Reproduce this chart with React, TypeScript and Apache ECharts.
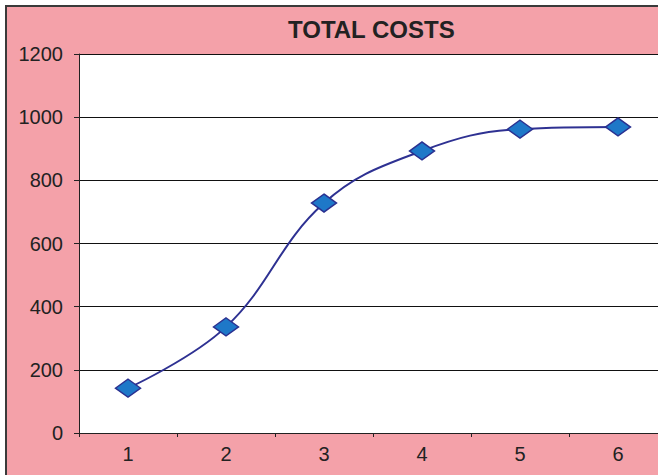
import React, { useEffect, useRef } from "react";
import * as echarts from "echarts";

const categories = ["1", "2", "3", "4", "5", "6"];
const totalCosts = [142, 336, 728, 893, 962, 969];
const yTicks = { min: 0, max: 1200, interval: 200 };
const titleText = "TOTAL COSTS";

export default function App() {
  const ref = useRef<HTMLDivElement>(null);
  useEffect(() => {
    if (!ref.current) return;
    const chart = echarts.init(ref.current, undefined, { renderer: "svg" });
    chart.setOption({
      animation: false,
      backgroundColor: "#ffffff",
      title: {
        text: titleText,
        left: 283,
        top: 12,
        textStyle: {
          fontFamily: "Liberation Sans, Arial, sans-serif",
          fontWeight: "bold",
          fontSize: 24,
          color: "#222222",
        },
      },
      graphic: [
        {
          type: "rect",
          z: -10,
          shape: { x: 6, y: 6, width: 720, height: 520 },
          style: { fill: "#F4A1A9", stroke: "#3a3a3a", lineWidth: 2 },
        },
      ],
      grid: {
        left: 79,
        top: 54,
        width: 588,
        bottom: 42,
        show: true,
        backgroundColor: "#ffffff",
        borderWidth: 0,
        containLabel: false,
        outerBoundsMode: "none",
      },
      xAxis: {
        type: "category",
        data: categories,
        boundaryGap: true,
        axisLine: { show: true, lineStyle: { color: "#222", width: 1 } },
        axisTick: { show: true, interval: 0, length: 4, alignWithLabel: false, lineStyle: { color: "#222" } },
        axisLabel: {
          fontFamily: "Liberation Sans, Arial, sans-serif",
          fontSize: 20,
          color: "#222",
          margin: 11,
        },
        splitLine: { show: false },
      },
      yAxis: {
        type: "value",
        min: yTicks.min,
        max: yTicks.max,
        interval: yTicks.interval,
        axisLine: { show: true, lineStyle: { color: "#222", width: 1 } },
        axisTick: { show: true, length: 5, lineStyle: { color: "#222" } },
        axisLabel: {
          fontFamily: "Liberation Sans, Arial, sans-serif",
          fontSize: 20,
          color: "#222",
          margin: 16,
          formatter: (v: number) => String(v),
        },
        splitLine: { show: true, lineStyle: { color: "#111", width: 1 } },
      },
      series: [
        {
          type: "line",
          data: totalCosts,
          smooth: 0.4,
          symbol: "diamond",
          symbolSize: [25, 18],
          lineStyle: { color: "#2E3192", width: 2 },
          itemStyle: { color: "#1E78C8", borderColor: "#2A3090", borderWidth: 1.5 },
        },
      ],
    });
    return () => chart.dispose();
  }, []);
  return (
    <div
      ref={ref}
      style={{ position: "fixed", left: 0, top: 0, width: 658, height: 475 }}
    />
  );
}
